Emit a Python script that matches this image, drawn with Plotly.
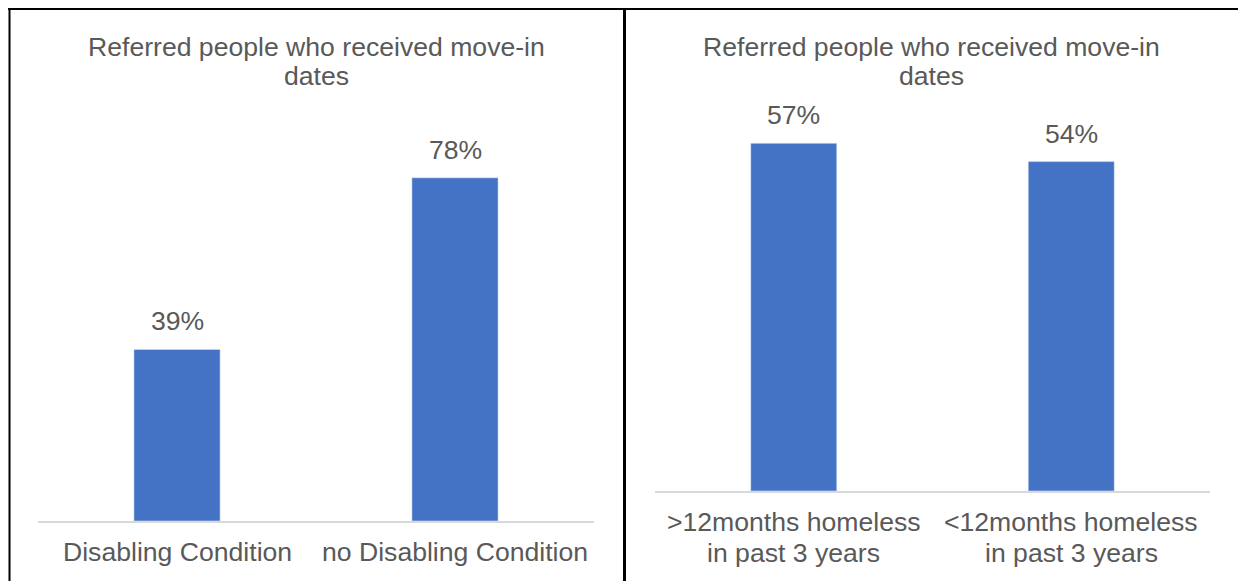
import plotly.graph_objects as go

# Share of referred people who received move-in dates
left_categories = ["Disabling Condition", "no Disabling Condition"]
left_values = [39, 78]

right_categories = [">12months homeless<br>in past 3 years", "<12months homeless<br>in past 3 years"]
right_values = [57, 54]

chart_title = "Referred people who received move-in<br>dates"

W, H = 1238, 581
BAR_COLOR = "#4472C4"
TEXT_COLOR = "#595959"
AXIS_COLOR = "#D9D9D9"
FONT = "Liberation Sans, Arial, sans-serif"
FS = 26.6
TITLE_GAP = 29  # px between title lines
LABEL_GAP = 31  # px between category label lines


def px_x(p):
    return p / W


def px_y(p):
    return 1 - p / H


fig = go.Figure()
fig.add_trace(go.Bar(x=left_categories, y=left_values, width=0.31,
                     marker_color=BAR_COLOR, xaxis="x", yaxis="y",
                     hoverinfo="skip"))
fig.add_trace(go.Bar(x=right_categories, y=right_values, width=0.31,
                     marker_color=BAR_COLOR, xaxis="x2", yaxis="y2",
                     hoverinfo="skip"))

axis_common = dict(showgrid=False, zeroline=False, showline=True,
                   linecolor=AXIS_COLOR, linewidth=1.5, ticks="",
                   showticklabels=False, fixedrange=True)

fig.update_layout(
    width=W, height=H,
    margin=dict(l=0, r=0, t=0, b=0),
    paper_bgcolor="white", plot_bgcolor="white",
    showlegend=False,
    xaxis=dict(domain=[px_x(38), px_x(594)], anchor="y", **axis_common),
    yaxis=dict(domain=[px_y(521), px_y(125)], range=[0, 90], visible=False,
               fixedrange=True),
    xaxis2=dict(domain=[px_x(655), px_x(1210)], anchor="y2", **axis_common),
    yaxis2=dict(domain=[px_y(491), px_y(125)], range=[0, 60], visible=False,
                fixedrange=True),
)

font = dict(family=FONT, size=FS, color=TEXT_COLOR)
annotations = []

# Panel titles, one annotation per line for tight line spacing
for cx in (px_x(316.5), px_x(931.5)):
    for i, line in enumerate(chart_title.split("<br>")):
        annotations.append(dict(text=line, x=cx, y=px_y(47 + i * TITLE_GAP),
                                xref="paper", yref="paper", xanchor="center",
                                yanchor="middle", showarrow=False, font=font))

# Category labels under each axis
for cats, xr, base in ((left_categories, "x", 521), (right_categories, "x2", 491)):
    for c in cats:
        for i, line in enumerate(c.split("<br>")):
            annotations.append(dict(text=line, x=c, xref=xr, yref="paper",
                                    y=px_y(base + 31 + i * LABEL_GAP),
                                    xanchor="center", yanchor="middle",
                                    showarrow=False, font=font))

# Value labels above bars
for cats, vals, xr, yr in ((left_categories, left_values, "x", "y"),
                           (right_categories, right_values, "x2", "y2")):
    for c, v in zip(cats, vals):
        annotations.append(dict(text=f"{v}%", x=c, y=v, xref=xr, yref=yr,
                                xanchor="center", yanchor="bottom", yshift=11,
                                showarrow=False, font=font))
fig.update_layout(annotations=annotations)

# Frame lines: top edge, left edge and panel divider
fig.add_shape(type="line", xref="paper", yref="paper",
              x0=px_x(8), x1=1.01, y0=px_y(9), y1=px_y(9),
              line=dict(color="black", width=2))
fig.add_shape(type="line", xref="paper", yref="paper",
              x0=px_x(9.5), x1=px_x(9.5), y0=px_y(8), y1=-0.01,
              line=dict(color="black", width=2))
fig.add_shape(type="line", xref="paper", yref="paper",
              x0=px_x(624.5), x1=px_x(624.5), y0=px_y(8), y1=-0.01,
              line=dict(color="black", width=3))

fig.write_html("out.html", config={"displayModeBar": False})
